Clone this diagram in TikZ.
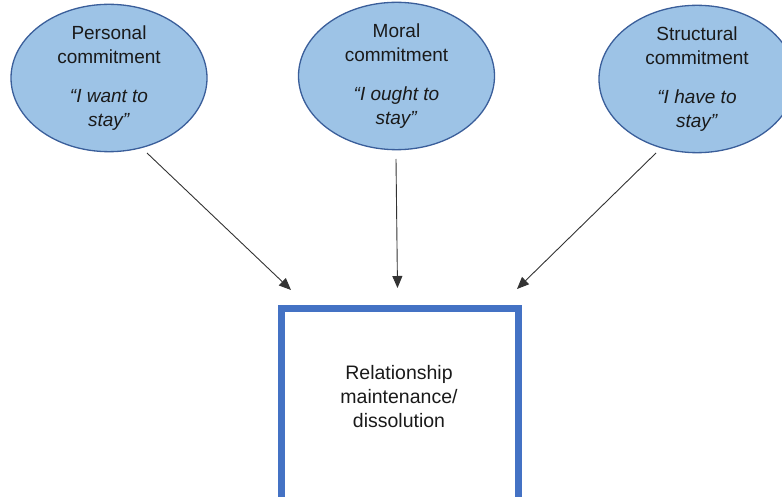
\documentclass[tikz,border=0pt]{standalone}
\usepackage{fontspec}
\setmainfont{Liberation Sans}
\usetikzlibrary{shapes.geometric,arrows.meta}
\definecolor{ellfill}{HTML}{9DC3E6}
\definecolor{elldraw}{HTML}{3A5E9A}
\definecolor{boxblue}{HTML}{4472C4}
\definecolor{txt}{HTML}{1A1A1A}
\tikzset{
  commit/.style={ellipse, draw=elldraw, line width=1.3pt, fill=ellfill,
    minimum width=196pt, minimum height=143pt, inner sep=0pt,
    align=center, text=txt, font=\fontsize{19}{23.5}\selectfont},
  outcome/.style={rectangle, draw=boxblue, line width=7pt, inner sep=0pt,
    minimum width=237.5pt, minimum height=230pt, anchor=north},
  lbl/.style={align=center, text=txt, font=\fontsize{19.5}{24}\selectfont},
  link/.style={draw=black!80, line width=0.9pt, -{Triangle[length=12pt,width=10pt]}}
}
\begin{document}
\begin{tikzpicture}[x=1pt,y=-1pt]
\useasboundingbox (0,0) rectangle (782,497);
\clip (0,0) rectangle (782,497);
\node[commit] (personal) at (109,78) {Personal\\commitment\\[16pt]\textit{“I want to}\\\textit{stay”}};
\node[commit] (moral) at (396.5,76) {Moral\\commitment\\[16pt]\textit{“I ought to}\\\textit{stay”}};
\node[commit] (structural) at (697,79) {Structural\\commitment\\[16pt]\textit{“I have to}\\\textit{stay”}};
\node[outcome] (box) at (400,305) {};
\node[lbl] (boxlabel) at (399,397) {Relationship\\maintenance/\\dissolution};
\coordinate (s1) at (147,153);
\coordinate (e1) at (291,290);
\coordinate (s2) at (396,159);
\coordinate (e2) at (397.5,288);
\coordinate (s3) at (656,153);
\coordinate (e3) at (517,289);
\draw[link] (s1) -- (e1);
\draw[link] (s2) -- (e2);
\draw[link] (s3) -- (e3);
\end{tikzpicture}
\end{document}
